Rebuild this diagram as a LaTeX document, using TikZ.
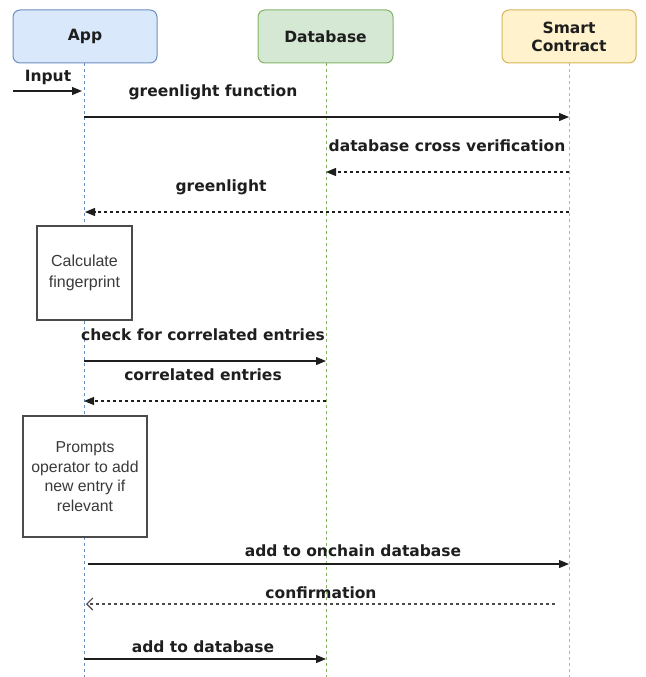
\documentclass[tikz,border=0pt]{standalone}
\usepackage{fontspec}
\usetikzlibrary{arrows.meta}
\newfontfamily\labf{DejaVu Sans}
\newfontfamily\boxf{Liberation Sans}
\definecolor{appfill}{HTML}{DAE8FC}\definecolor{appline}{HTML}{6C8EBF}
\definecolor{dbfill}{HTML}{D5E8D4}\definecolor{dbline}{HTML}{82B366}
\definecolor{scfill}{HTML}{FFF2CC}\definecolor{scline}{HTML}{D6B656}
\definecolor{ink}{HTML}{1E1E1E}\definecolor{boxtext}{HTML}{3A3A3A}
\tikzset{
  head/.style={draw=#1line, fill=#1fill, rounded corners=7pt, line width=1pt,
    minimum width=144pt, minimum height=53pt, inner sep=0pt,
    font=\labf\bfseries\fontsize{15.5}{18}\selectfont, text=ink, align=center},
  life/.style={draw=#1line, line width=0.9pt, dash pattern=on 3pt off 3pt},
  act/.style={draw=ink!80, fill=white, line width=1.1pt, inner sep=0pt,
    font=\boxf\fontsize{16}{20.5}\selectfont, text=boxtext, align=center},
  msg/.style={font=\labf\bfseries\fontsize{15.5}{17.5}\selectfont, text=ink, inner sep=0pt},
  call/.style={draw=ink, line width=1.2pt, -{Triangle[length=10pt,width=8pt]}},
  ret/.style={draw=ink, line width=1.1pt, dash pattern=on 3pt off 3pt, -{Triangle[length=10pt,width=8pt]}},
  retopen/.style={draw=ink!80, line width=1.1pt, dash pattern=on 3pt off 3pt, -{Straight Barb[length=6pt,width=12pt]}},
}
\begin{document}
\begin{tikzpicture}[x=1pt,y=-1pt]
\useasboundingbox (0,0) rectangle (645,677);
% headers
\node[head=app, minimum width=144pt] (app) at (85,36.5) {App};
\node[head=db, minimum width=135pt] (db) at (325.5,36.5) {Database};
\node[head=sc, minimum width=134pt] (sc) at (569,36.5) {Smart\\Contract};
% lifelines
\coordinate (appTop) at (84,63); \coordinate (appEnd) at (84,677);
\coordinate (dbTop) at (326,63); \coordinate (dbEnd) at (326,677);
\coordinate (scTop) at (569,63); \coordinate (scEnd) at (569,677);
\draw[life=app] (appTop) -- (appEnd);
\draw[life=db] (dbTop) -- (dbEnd);
\draw[life=sc] (scTop) -- (scEnd);
% activity boxes
\node[act, minimum width=95pt, minimum height=94pt] (calc) at (84.5,273) {Calculate\\fingerprint};
\node[act, minimum width=124pt, minimum height=121pt, font=\boxf\fontsize{15.8}{19.7}\selectfont] (prompt) at (85,476.5) {Prompts\\operator to add\\new entry if\\relevant};
% coordinates on lifelines
\coordinate (inS) at (13,91); \coordinate (inE) at (82,91);
\coordinate (a1) at (84,117); \coordinate (s1) at (569,117);
\coordinate (s2) at (569,172); \coordinate (d2) at (326,172);
\coordinate (s3) at (569,212); \coordinate (a3) at (85,212);
\coordinate (a4) at (84,361); \coordinate (d4) at (326,361);
\coordinate (d5) at (326,401); \coordinate (a5) at (84,401);
\coordinate (a6) at (88,564); \coordinate (s6) at (569,564);
\coordinate (s7) at (555,604); \coordinate (a7) at (86,604);
\coordinate (a8) at (84,659); \coordinate (d8) at (326,659);
% messages
\draw[call] (inS) -- (inE);
\node[msg] (lin) at (48,77) {Input};
\draw[call] (a1) -- (s1);
\node[msg] (l1) at (213,92) {greenlight function};
\draw[ret] (s2) -- (d2);
\node[msg] (l2) at (447,146) {database cross verification};
\draw[ret] (s3) -- (a3);
\node[msg] (l3) at (221,187) {greenlight};
\draw[call] (a4) -- (d4);
\node[msg] (l4) at (203,335) {check for correlated entries};
\draw[ret] (d5) -- (a5);
\node[msg] (l5) at (203,375) {correlated entries};
\draw[call] (a6) -- (s6);
\node[msg] (l6) at (353,551) {add to onchain database};
\draw[retopen] (s7) -- (a7);
\node[msg] (l7) at (321,593) {confirmation};
\draw[call] (a8) -- (d8);
\node[msg] (l8) at (203,647) {add to database};
\end{tikzpicture}
\end{document}
